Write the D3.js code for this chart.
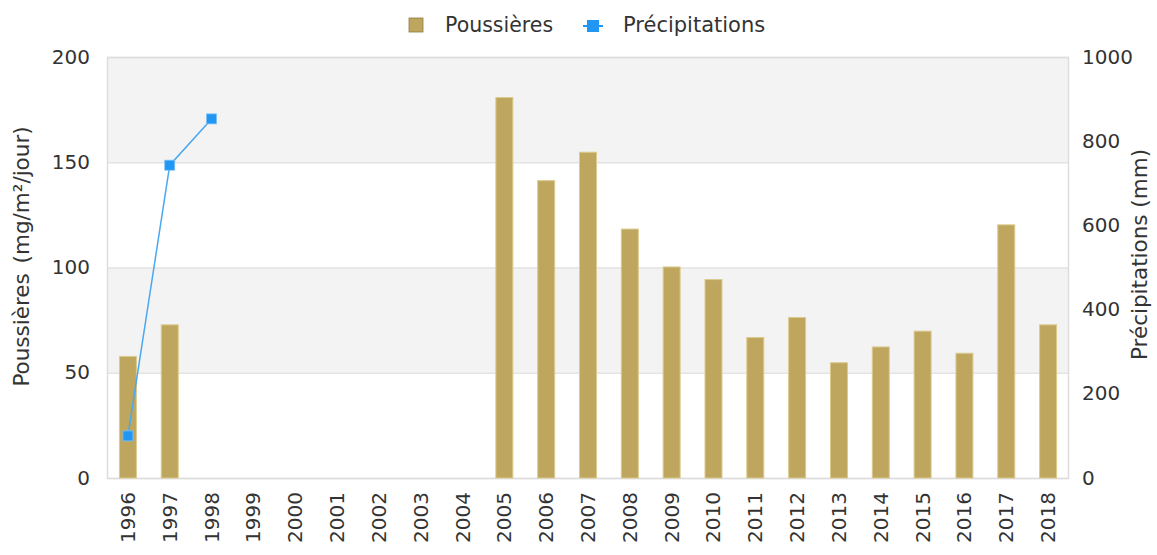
<!DOCTYPE html>
<html>
<head>
<meta charset="utf-8">
<script src="https://cdn.jsdelivr.net/npm/d3@7"></script>
<style>
  body { margin: 0; background: #fff; }
  text { font-family: "DejaVu Sans", sans-serif; fill: #333; }
</style>
</head>
<body>
<script>
// Data
const years = ["1996","1997","1998","1999","2000","2001","2002","2003","2004","2005","2006",
               "2007","2008","2009","2010","2011","2012","2013","2014","2015","2016","2017","2018"];
const poussieres = [58, 73, null, null, null, null, null, null, null, 181, 141.5,
                    155, 118.5, 100.5, 94.5, 67, 76.5, 55, 62.5, 70, 59.5, 120.5, 73];
const precipitations = [100, 743, 853, null, null, null, null, null, null, null, null,
                        null, null, null, null, null, null, null, null, null, null, null, null];
const leftTicks = [0, 50, 100, 150, 200];
const rightTicks = [0, 200, 400, 600, 800, 1000];

const W = 1157, H = 555;
const margin = { top: 57, right: 88, bottom: 77, left: 107 };
const width = W - margin.left - margin.right;
const height = H - margin.top - margin.bottom;

const svg = d3.select("body").append("svg")
  .attr("width", W)
  .attr("height", H);

const g = svg.append("g")
  .attr("transform", `translate(${margin.left}, ${margin.top})`);

// Scales
const x = d3.scaleBand().domain(years).range([0, width]).paddingInner(0.57).paddingOuter(0.285);
const yL = d3.scaleLinear().domain([0, 200]).range([height, 0]);
const yR = d3.scaleLinear().domain([0, 1000]).range([height, 0]);

// Alternating bands
const bands = d3.pairs(leftTicks);
g.selectAll(".band")
  .data(bands)
  .enter().append("rect")
  .attr("x", 0)
  .attr("width", width)
  .attr("y", d => yL(d[1]))
  .attr("height", d => yL(d[0]) - yL(d[1]))
  .attr("fill", (d, i) => i % 2 === 1 ? "#f3f3f3" : "#fff");

// Grid lines
g.selectAll(".grid")
  .data(leftTicks)
  .enter().append("line")
  .attr("x1", 0).attr("x2", width)
  .attr("y1", d => yL(d) + 0.5).attr("y2", d => yL(d) + 0.5)
  .attr("stroke", "#e3e3e3")
  .attr("stroke-width", 1.5);

// Frame
g.append("rect")
  .attr("x", 0.5).attr("y", 0.5)
  .attr("width", width - 1).attr("height", height)
  .attr("fill", "none")
  .attr("stroke", "#dddddd")
  .attr("stroke-width", 1.5);

// Bars
const barData = years.map((d, i) => ({ year: d, v: poussieres[i] })).filter(d => d.v != null);
g.selectAll(".bar")
  .data(barData)
  .enter().append("rect")
  .attr("x", d => x(d.year) + 0.5)
  .attr("width", x.bandwidth() - 1)
  .attr("y", d => yL(d.v) + 0.5)
  .attr("height", d => yL(0) - yL(d.v) - 0.5)
  .attr("fill", "#bea65e")
  .attr("stroke", "#dccb8e")
  .attr("stroke-width", 1);

// Line
const lineData = years.map((d, i) => ({ year: d, v: precipitations[i] })).filter(d => d.v != null);
const line = d3.line()
  .x(d => x(d.year) + x.bandwidth() / 2)
  .y(d => yR(d.v));
g.append("path")
  .datum(lineData)
  .attr("d", line)
  .attr("fill", "none")
  .attr("stroke", "#4aa8f0")
  .attr("stroke-width", 1.5);
g.selectAll(".marker")
  .data(lineData)
  .enter().append("rect")
  .attr("x", d => x(d.year) + x.bandwidth() / 2 - 5)
  .attr("y", d => yR(d.v) - 5)
  .attr("width", 10).attr("height", 10)
  .attr("fill", "#2196f3")
  .attr("stroke", "#7cc0f7")
  .attr("stroke-width", 0.8);

// Left axis
const axL = g.append("g")
  .call(d3.axisLeft(yL).tickValues(leftTicks).tickSize(0).tickPadding(17));
axL.select(".domain").remove();
axL.selectAll("text").style("font-size", "20px").attr("dy", "0.3em");

// Right axis
const axR = g.append("g")
  .attr("transform", `translate(${width}, 0)`)
  .call(d3.axisRight(yR).tickValues(rightTicks).tickFormat(d3.format("d")).tickSize(0).tickPadding(13));
axR.select(".domain").remove();
axR.selectAll("text").style("font-size", "20px").attr("dy", "0.3em");

// X axis
const axX = g.append("g")
  .attr("transform", `translate(0, ${height})`)
  .call(d3.axisBottom(x).tickSize(0).tickPadding(0));
axX.select(".domain").remove();
axX.selectAll("text")
  .style("font-size", "20px")
  .style("text-anchor", "end")
  .attr("transform", "rotate(-90)")
  .attr("x", -14)
  .attr("y", 0)
  .attr("dy", "0.35em");

// Axis titles
svg.append("text")
  .attr("transform", `translate(29, ${margin.top + height / 2 - 11}) rotate(-90)`)
  .style("text-anchor", "middle")
  .style("font-size", "21.5px")
  .style("word-spacing", "3px")
  .text("Poussières (mg/m²/jour)");

svg.append("text")
  .attr("transform", `translate(1147, ${margin.top + height / 2 - 13}) rotate(-90)`)
  .style("text-anchor", "middle")
  .style("font-size", "21.5px")
  .text("Précipitations (mm)");

// Legend
const legend = svg.append("g");
legend.append("rect")
  .attr("x", 409).attr("y", 18)
  .attr("width", 14).attr("height", 14)
  .attr("fill", "#bea65e")
  .attr("stroke", "#8f7d45")
  .attr("stroke-width", 0.8);
legend.append("text")
  .attr("x", 445).attr("y", 25)
  .attr("dy", "0.35em")
  .style("font-size", "20.5px")
  .text("Poussières");
legend.append("line")
  .attr("x1", 583).attr("x2", 603)
  .attr("y1", 26).attr("y2", 26)
  .attr("stroke", "#2196f3")
  .attr("stroke-width", 2);
legend.append("rect")
  .attr("x", 587).attr("y", 20)
  .attr("width", 12).attr("height", 12)
  .attr("fill", "#2196f3");
legend.append("text")
  .attr("x", 623).attr("y", 25)
  .attr("dy", "0.35em")
  .style("font-size", "21px")
  .text("Précipitations");
</script>
</body>
</html>
